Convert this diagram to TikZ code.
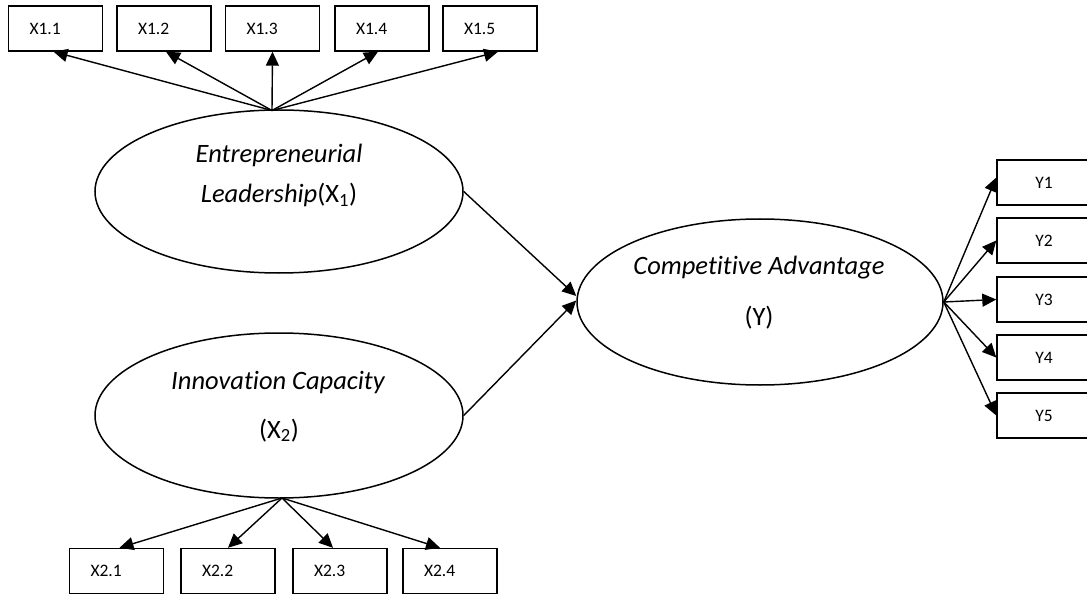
\documentclass[tikz,border=0pt]{standalone}
\usepackage{fontspec}
\setmainfont{Carlito}[Ligatures={NoCommon}]
\usetikzlibrary{shapes.geometric,arrows.meta,calc}
\tikzset{
  lat/.style={draw, ellipse, line width=1.5pt, inner sep=0pt},
  xbox/.style={draw, rectangle, line width=1.4pt, minimum height=45pt, text width=52pt, inner xsep=21pt, inner ysep=0pt, align=left, font=\fontsize{17.5}{20}\selectfont},
  ybox/.style={draw, rectangle, line width=1.4pt, minimum height=45pt, minimum width=94pt, inner sep=0pt, font=\fontsize{17.5}{20}\selectfont},
  lbl/.style={anchor=base, inner sep=0pt, font=\fontsize{26.5}{30}\selectfont},
  path/.style={line width=1.4pt, -{Triangle[length=14pt,width=13pt]}}
}
\begin{document}
\begin{tikzpicture}[x=1pt,y=-1pt]
\useasboundingbox (0,0) rectangle (1087,596);
% latent variables
\node[lat, minimum width=368pt, minimum height=163pt] (e1) at (279,191.5) {};
\node[lat, minimum width=368pt, minimum height=165pt] (e2) at (279,415.5) {};
\node[lat, minimum width=366pt, minimum height=166pt] (ca) at (760,302) {};
\node[lbl] (t1a) at (279,163) {\itshape Entrepreneurial};
\node[lbl] (t1b) at (279,203) {\itshape Leadership\upshape(X\textsubscript{1})};
\node[lbl] (t2a) at (278,389) {\itshape Innovation Capacity};
\node[lbl] (t2b) at (279,438) {(X\textsubscript{2})};
\node[lbl] (t3a) at (759,274.5) {\itshape Competitive Advantage};
\node[lbl] (t3b) at (759,325) {(Y)};
% indicator boxes X1
\node[xbox] (x11) at (55.5,28.5) {X1.1};
\node[xbox] (x12) at (164,28.5) {X1.2};
\node[xbox] (x13) at (272.5,28.5) {X1.3};
\node[xbox] (x14) at (382,28.5) {X1.4};
\node[xbox] (x15) at (490,28.5) {X1.5};
% indicator boxes X2
\node[xbox] (x21) at (116.5,571) {X2.1};
\node[xbox] (x22) at (228,571) {X2.2};
\node[xbox] (x23) at (340,571) {X2.3};
\node[xbox] (x24) at (450,571) {X2.4};
% indicator boxes Y
\node[ybox] (y1) at (1044,182.5) {Y1};
\node[ybox] (y2) at (1044,240.5) {Y2};
\node[ybox] (y3) at (1044,299.5) {Y3};
\node[ybox] (y4) at (1044,357.5) {Y4};
\node[ybox] (y5) at (1044,415.5) {Y5};
% apex points
\coordinate (a1) at (272,110.5);
\coordinate (a2) at (282,498);
% loadings X1
\draw[path] (a1) -- ([xshift=-2pt]x11.south);
\draw[path] (a1) -- ([xshift=2pt]x12.south);
\draw[path] (a1) -- (x13.south);
\draw[path] (a1) -- ([xshift=-4pt]x14.south);
\draw[path] (a1) -- ([xshift=8pt]x15.south);
% loadings X2
\draw[path] (a2) -- ([xshift=3pt]x21.north);
\draw[path] (a2) -- (x22.north);
\draw[path] (a2) -- ([xshift=-7pt]x23.north);
\draw[path] (a2) -- ([xshift=-10pt]x24.north);
% loadings Y
\draw[path] (ca.east) -- ([yshift=5pt]y1.west);
\draw[path] (ca.east) -- (y2.west);
\draw[path] (ca.east) -- (y3.west);
\draw[path] (ca.east) -- (y4.west);
\draw[path] (ca.east) -- (y5.west);
% structural paths
\draw[path] (e1.east) -- ([yshift=6pt]ca.west);
\draw[path] (e2.east) -- ([yshift=1.5pt]ca.west);
\end{tikzpicture}
\end{document}
